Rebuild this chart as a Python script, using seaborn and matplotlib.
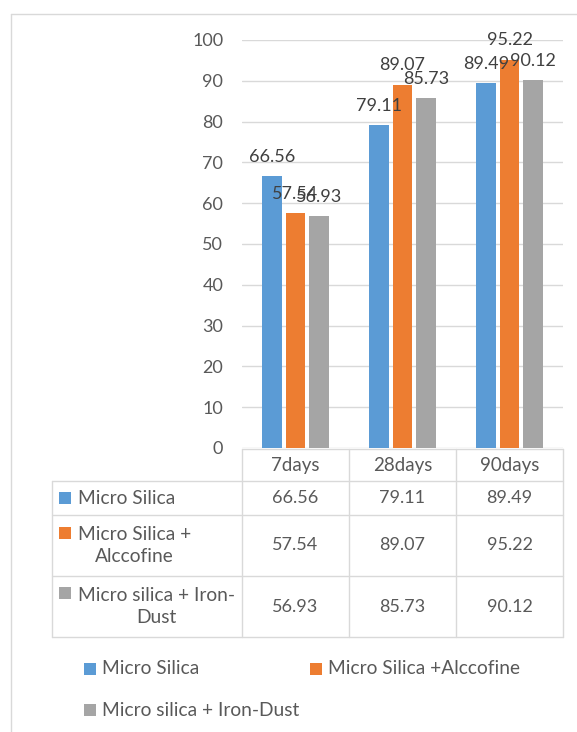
import matplotlib
matplotlib.use("Agg")
import matplotlib.pyplot as plt
from matplotlib.patches import Rectangle
import seaborn as sns
import pandas as pd

# ---- data ----
categories = ["7days", "28days", "90days"]
series_names = ["Micro Silica", "Micro Silica + Alccofine", "Micro silica + Iron-Dust"]
micro_silica = [66.56, 79.11, 89.49]
ms_alccofine = [57.54, 89.07, 95.22]
ms_iron_dust = [56.93, 85.73, 90.12]
table_row_labels = ["Micro Silica", "Micro Silica +\nAlccofine", "Micro silica + Iron-\nDust"]
legend_labels = ["Micro Silica", "Micro Silica +Alccofine", "Micro silica + Iron-Dust"]
y_ticks = [0, 10, 20, 30, 40, 50, 60, 70, 80, 90, 100]

colors = ["#5B9BD5", "#ED7D31", "#A5A5A5"]
all_values = [micro_silica, ms_alccofine, ms_iron_dust]

rows = []
for s, vals in zip(series_names, all_values):
    for c, v in zip(categories, vals):
        rows.append({"day": c, "series": s, "value": v})
df = pd.DataFrame(rows)

sns.set_theme(style="white")
plt.rcParams["font.family"] = ["Lato", "DejaVu Sans"]

W, H = 577, 732
fig = plt.figure(figsize=(W / 100, H / 100), dpi=100)

ax_l, ax_r, ax_t, ax_b = 242, 563, 40, 448
ax = fig.add_axes([ax_l / W, 1 - ax_b / H, (ax_r - ax_l) / W, (ax_b - ax_t) / H])
sns.barplot(data=df, x="day", y="value", hue="series", order=categories,
            hue_order=series_names, palette=colors, width=0.66, gap=0.17,
            saturation=1, linewidth=0, legend=False, ax=ax)
ax.set_xlim(-0.5, 2.5)
ax.set_ylim(0, 100)
ax.set_yticks(y_ticks)
ax.set_xticks([])
ax.set_xlabel("")
ax.set_ylabel("")
for sp in ax.spines.values():
    sp.set_visible(False)
ax.yaxis.grid(True, color="#d9d9d9", lw=1)
ax.set_axisbelow(True)
ax.tick_params(axis="y", length=0, pad=13.5, labelsize=13, labelcolor="#595959")
ax.patch.set_alpha(0)

for cont, vals in zip(ax.containers, all_values):
    ax.bar_label(cont, labels=[f"{v:.2f}" for v in vals], padding=8,
                 fontsize=13, color="#404040", clip_on=False)

# ---- overlay for frame, data table and legend ----
ov = fig.add_axes([0, 0, 1, 1], zorder=-1)
ov.set_xlim(0, W)
ov.set_ylim(H, 0)
ov.axis("off")

line_c = "#d9d9d9"
txt_c = "#595959"
# outer frame
ov.plot([11, 11], [14, H + 5], color=line_c, lw=1)
ov.plot([11, W + 5], [14, 14], color=line_c, lw=1)

col_edges = [ax_l + (ax_r - ax_l) * k / 3 for k in range(4)]
tbl_left = 52
row_edges = [449, 481, 515, 576, 637]

ov.plot([ax_l, ax_r], [row_edges[0], row_edges[0]], color=line_c, lw=1)
for y in row_edges[1:]:
    ov.plot([tbl_left, ax_r], [y, y], color=line_c, lw=1)
ov.plot([tbl_left, tbl_left], [row_edges[1], row_edges[-1]], color=line_c, lw=1)
for x in col_edges:
    ov.plot([x, x], [row_edges[0], row_edges[-1]], color=line_c, lw=1)

col_centers = [(col_edges[i] + col_edges[i + 1]) / 2 for i in range(3)]
for cx, cat in zip(col_centers, categories):
    ov.text(cx, (row_edges[0] + row_edges[1]) / 2, cat, ha="center", va="center",
            fontsize=13.5, color=txt_c)

first_line_y = [498, 533, 593]
for i, (lab, vals, col) in enumerate(zip(table_row_labels, all_values, colors)):
    yc = (row_edges[i + 1] + row_edges[i + 2]) / 2
    ov.add_patch(Rectangle((59, first_line_y[i] - 6), 12, 12, color=col, lw=0))
    ov.text(78, yc, lab, ha="left", va="center", multialignment="center",
            linespacing=1.3, fontsize=13.8, color=txt_c)
    for cx, v in zip(col_centers, vals):
        ov.text(cx, yc, f"{v:.2f}", ha="center", va="center", fontsize=13, color=txt_c)

# legend
leg_pos = [(84, 669), (310, 669), (84, 710)]
for (lx, ly), lab, col in zip(leg_pos, legend_labels, colors):
    ov.add_patch(Rectangle((lx, ly - 6), 12, 12, color=col, lw=0))
    ov.text(lx + 18, ly, lab, ha="left", va="center", fontsize=13.8, color=txt_c)

fig.savefig("out.png", dpi=100)
